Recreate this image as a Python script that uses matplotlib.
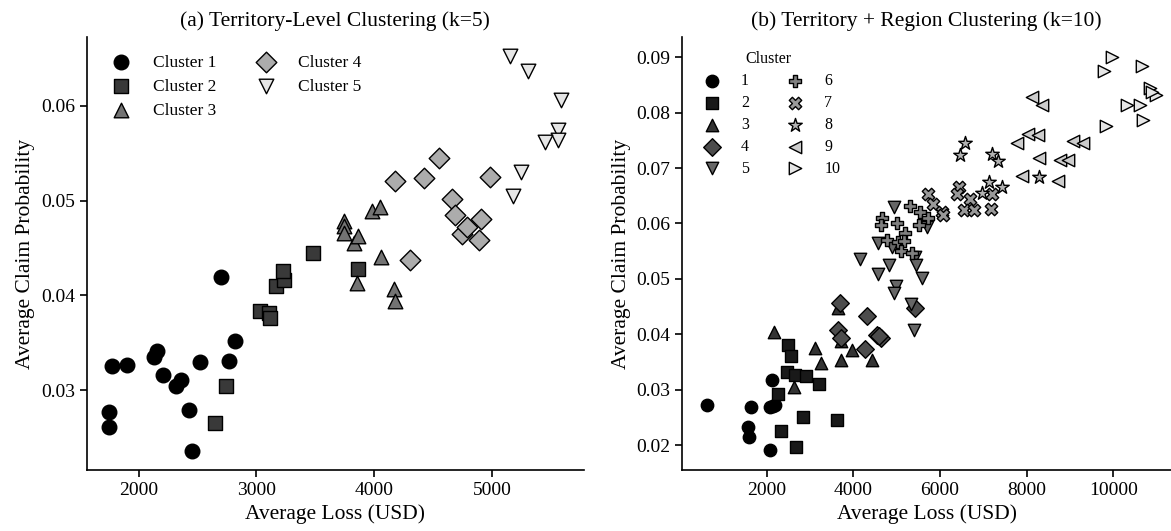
import numpy as np
import matplotlib
matplotlib.use("Agg")
import matplotlib.pyplot as plt

plt.rcParams['font.family'] = ['Liberation Serif', 'DejaVu Serif']
plt.rcParams['axes.linewidth'] = 1.2

# (a) territory-level clustering, k=5
terr_loss = [1752, 1752, 1774, 1903, 2135, 2154, 2210, 2317, 2364, 2424, 2455, 2521, 2703, 2769, 2816,
             2646, 2744, 3032, 3108, 3120, 3167, 3236, 3224, 3484, 3864,
             3741, 3748, 3748, 3826, 3867, 3983, 4052, 4055, 3854, 4171, 4181,
             4174, 4303, 4425, 4548, 4664, 4686, 4749, 4786, 4893, 4906, 4987,
             5150, 5304, 5590, 5564, 5564, 5452, 5244, 5182]
terr_prob = [0.0277, 0.0261, 0.0326, 0.0327, 0.0335, 0.0341, 0.0316, 0.0304, 0.0311, 0.0279, 0.0236, 0.0330, 0.0419, 0.0331, 0.0352,
             0.0265, 0.0304, 0.0384, 0.0381, 0.0376, 0.0410, 0.0416, 0.0426, 0.0445, 0.0428,
             0.0479, 0.0473, 0.0466, 0.0455, 0.0463, 0.0489, 0.0493, 0.0441, 0.0413, 0.0407, 0.0394,
             0.0521, 0.0437, 0.0524, 0.0545, 0.0502, 0.0485, 0.0465, 0.0472, 0.0459, 0.0481, 0.0525,
             0.0653, 0.0637, 0.0606, 0.0575, 0.0564, 0.0562, 0.0530, 0.0505]
terr_cluster = [1] * 15 + [2] * 10 + [3] * 11 + [4] * 11 + [5] * 8

# (b) territory + region clustering, k=10
reg_loss = [619, 1642, 1565, 1600, 2086, 2128, 2086, 2150, 2197,
            2496, 2564, 2470, 2650, 2897, 3204, 2256, 2845, 2325, 2666, 3623,
            2168, 3114, 3246, 2630, 3715, 3975, 4437, 3638, 3715,
            3692, 3638, 3715, 4322, 4268, 4553, 4638, 5420, 4600,
            4945, 4153, 4562, 4830, 4576, 4884, 4984, 4945, 5423, 5446, 5577, 5330, 5407, 5692,
            5307, 4653, 4638, 5000, 4769, 5037, 5192, 5168, 5092, 5346, 5538, 5522, 5715,
            5730, 5831, 6039, 6076, 6445, 6399, 6692, 6553, 6784, 7192, 7169,
            6576, 6461, 7192, 7345, 7138, 6962, 7423, 8291,
            8116, 8346, 7770, 8037, 8268, 9062, 9307, 8291, 8769, 8961, 7885, 8715,
            9976, 9784, 10654, 10845, 10984, 10308, 10615, 10691, 9830, 10900]
reg_prob = [0.0272, 0.0269, 0.0232, 0.0215, 0.0191, 0.0317, 0.0269, 0.0270, 0.0272,
            0.0380, 0.0361, 0.0332, 0.0327, 0.0324, 0.0311, 0.0293, 0.0250, 0.0226, 0.0197, 0.0246,
            0.0404, 0.0375, 0.0348, 0.0305, 0.0354, 0.0372, 0.0354, 0.0447, 0.0387,
            0.0457, 0.0408, 0.0393, 0.0433, 0.0373, 0.0399, 0.0393, 0.0447, 0.0396,
            0.0630, 0.0535, 0.0508, 0.0525, 0.0564, 0.0558, 0.0487, 0.0474, 0.0540, 0.0525, 0.0501, 0.0455, 0.0408, 0.0594,
            0.0632, 0.0609, 0.0597, 0.0601, 0.0570, 0.0567, 0.0583, 0.0569, 0.0551, 0.0546, 0.0621, 0.0597, 0.0609,
            0.0653, 0.0635, 0.0620, 0.0615, 0.0665, 0.0653, 0.0644, 0.0624, 0.0624, 0.0653, 0.0626,
            0.0746, 0.0724, 0.0725, 0.0712, 0.0675, 0.0655, 0.0665, 0.0684,
            0.0828, 0.0814, 0.0745, 0.0761, 0.0760, 0.0749, 0.0746, 0.0718, 0.0715, 0.0715, 0.0686, 0.0677,
            0.0900, 0.0875, 0.0885, 0.0844, 0.0832, 0.0814, 0.0814, 0.0787, 0.0775, 0.0838]
reg_cluster = [1] * 9 + [2] * 11 + [3] * 9 + [4] * 9 + [5] * 14 + [6] * 13 + [7] * 11 + [8] * 8 + [9] * 12 + [10] * 10

markers = ['o', 's', '^', 'D', 'v', 'P', 'X', '*', '<', '>']

fig = plt.figure(figsize=(11.71, 5.31), dpi=100)
ax1 = fig.add_axes([0.074, 0.1149, 0.4247, 0.8149])
ax2 = fig.add_axes([0.5827, 0.1149, 0.4173, 0.8149])

def draw(ax, loss, prob, cluster, k, size, label_fmt):
    loss = np.array(loss)
    prob = np.array(prob)
    cluster = np.array(cluster)
    grays = plt.cm.gray(np.linspace(0, 0.9, k))
    for c in range(1, k + 1):
        m = cluster == c
        s = size * 1.3 if markers[c - 1] == '*' else size
        ax.scatter(loss[m], prob[m], s=s, marker=markers[c - 1], color=grays[c - 1],
                   edgecolor='black', linewidth=1.0, label=label_fmt.format(c), zorder=2)

draw(ax1, terr_loss, terr_prob, terr_cluster, 5, 110, 'Cluster {}')
draw(ax2, reg_loss, reg_prob, reg_cluster, 10, 80, '{}')

for ax in (ax1, ax2):
    ax.spines['top'].set_visible(False)
    ax.spines['right'].set_visible(False)
    ax.tick_params(labelsize=14, length=5, width=1.2)
    ax.set_xlabel('Average Loss (USD)', fontsize=15.5)
    ax.set_ylabel('Average Claim Probability', fontsize=15.5)

ax1.set_xlim(1559, 5782)
ax1.set_ylim(0.02158, 0.06724)
ax1.set_xticks([2000, 3000, 4000, 5000])
ax1.set_yticks([0.03, 0.04, 0.05, 0.06])
ax1.set_title('(a) Territory-Level Clustering (k=5)', fontsize=15.5, pad=8)
ax1.legend(loc='upper left', ncol=2, frameon=False, fontsize=12.5,
           handletextpad=0.83, columnspacing=1.85, labelspacing=0.45,
           borderaxespad=0.6, bbox_to_anchor=(0.0, 1.0))

ax2.set_xlim(52, 11330)
ax2.set_ylim(0.0155, 0.0936)
ax2.set_xticks([2000, 4000, 6000, 8000, 10000])
ax2.set_yticks([0.02, 0.03, 0.04, 0.05, 0.06, 0.07, 0.08, 0.09])
ax2.set_title('(b) Territory + Region Clustering (k=10)', fontsize=15.5, pad=8)
ax2.legend(loc='upper left', ncol=2, frameon=False, fontsize=11.5, title='Cluster',
           title_fontsize=11.5, handletextpad=0.8, columnspacing=1.9,
           labelspacing=0.37, borderaxespad=0.6, bbox_to_anchor=(-0.004, 1.005))

fig.savefig('out.png', dpi=100)
